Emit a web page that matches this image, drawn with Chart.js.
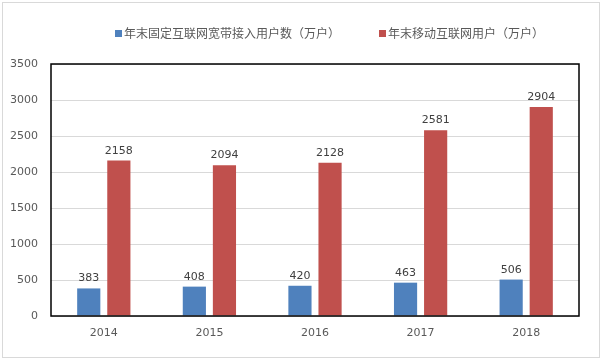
<!DOCTYPE html>
<html>
<head>
<meta charset="utf-8">
<script src="https://cdn.jsdelivr.net/npm/chart.js@4/dist/chart.umd.min.js"></script>
<style>
  html, body { margin: 0; padding: 0; background: #fff; }
  #wrap { width: 602px; height: 360px; }
</style>
</head>
<body>
<div id="wrap"><canvas id="chart" width="602" height="360"></canvas></div>
<script>
// chart data
const years = ['2014', '2015', '2016', '2017', '2018'];
const broadbandUsers = [383, 408, 420, 463, 506];
const mobileUsers = [2158, 2094, 2128, 2581, 2904];
const seriesNames = ['年末固定互联网宽带接入用户数（万户）', '年末移动互联网用户（万户）'];
const seriesColors = ['#4f81bd', '#c0504d'];
const yTicks = [0, 500, 1000, 1500, 2000, 2500, 3000, 3500];

const numFont = "'DejaVu Sans', Verdana, sans-serif";
const cjkFont = "'Noto Sans CJK SC', 'Noto Sans', sans-serif";

// frame around the picture + black plot border
const framePlugin = {
  id: 'frame',
  beforeDraw(chart) {
    const ctx = chart.ctx;
    ctx.save();
    ctx.fillStyle = '#fff';
    ctx.fillRect(0, 0, chart.width, chart.height);
    ctx.strokeStyle = '#d9d9d9';
    ctx.lineWidth = 1;
    ctx.strokeRect(2.5, 2.5, 597, 355);
    ctx.restore();
  },
  afterDatasetsDraw(chart) {
    const { ctx, chartArea: a } = chart;
    ctx.save();
    ctx.strokeStyle = '#000';
    ctx.lineWidth = 1.5;
    ctx.strokeRect(a.left, a.top, a.right - a.left, a.bottom - a.top);
    ctx.restore();
  }
};

// value labels above the bars
const valueLabels = {
  id: 'valueLabels',
  afterDatasetsDraw(chart) {
    const ctx = chart.ctx;
    ctx.save();
    ctx.font = '11px ' + numFont;
    ctx.fillStyle = '#404040';
    ctx.textAlign = 'center';
    ctx.textBaseline = 'alphabetic';
    chart.data.datasets.forEach((ds, i) => {
      chart.getDatasetMeta(i).data.forEach((bar, j) => {
        ctx.fillText(String(ds.data[j]), bar.x, bar.y - 7);
      });
    });
    ctx.restore();
  }
};

// legend drawn by hand so it sits where the original one does
const topLegend = {
  id: 'topLegend',
  afterDraw(chart) {
    const ctx = chart.ctx;
    const starts = [115, 379];
    ctx.save();
    ctx.font = '12px ' + cjkFont;
    ctx.textBaseline = 'middle';
    ctx.textAlign = 'left';
    chart.data.datasets.forEach((ds, i) => {
      const x = starts[i];
      ctx.fillStyle = ds.backgroundColor;
      ctx.fillRect(x, 30, 7, 7);
      ctx.fillStyle = '#595959';
      ctx.fillText(ds.label, x + 9, 33);
    });
    ctx.restore();
  }
};

new Chart(document.getElementById('chart'), {
  type: 'bar',
  data: {
    labels: years,
    datasets: [
      {
        label: seriesNames[0],
        data: broadbandUsers,
        backgroundColor: seriesColors[0],
        categoryPercentage: 0.57,
        barPercentage: 0.77,
      },
      {
        label: seriesNames[1],
        data: mobileUsers,
        backgroundColor: seriesColors[1],
        categoryPercentage: 0.57,
        barPercentage: 0.77,
      }
    ]
  },
  options: {
    responsive: false,
    animation: false,
    layout: { padding: { top: 64, right: 23, bottom: 0, left: 0 } },
    plugins: {
      legend: { display: false },
      tooltip: { enabled: false },
    },
    scales: {
      x: {
        grid: { display: false, drawTicks: false },
        border: { display: false },
        ticks: {
          color: '#595959',
          font: { family: numFont, size: 11 },
          padding: 11,
          maxRotation: 0,
        },
        afterFit(scale) { scale.height = 44; }
      },
      y: {
        min: 0,
        max: 3500,
        afterBuildTicks(scale) { scale.ticks = yTicks.map(v => ({ value: v })); },
        grid: { color: '#d9d9d9', lineWidth: 1, drawTicks: false },
        border: { display: false },
        ticks: {
          color: '#595959',
          font: { family: numFont, size: 11 },
          padding: 13,
          callback: (v) => String(v),
        },
        afterFit(scale) { scale.width = 51; }
      }
    }
  },
  plugins: [framePlugin, valueLabels, topLegend]
});
</script>
</body>
</html>
